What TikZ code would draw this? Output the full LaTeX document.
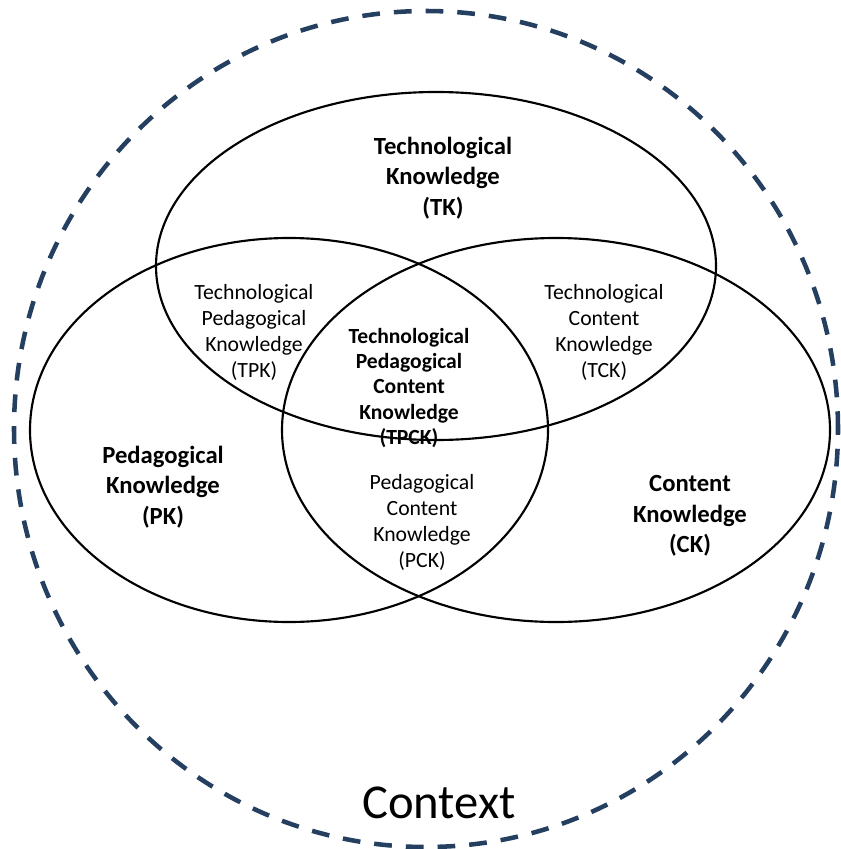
\documentclass[tikz,border=0pt]{standalone}
\usepackage{fontspec}
\setmainfont{Carlito}
\usetikzlibrary{shapes.geometric}
\tikzset{every picture/.style={line width=0.75pt}}
\definecolor{ctxblue}{RGB}{36,63,96}

\begin{document}
\begin{tikzpicture}[x=0.75pt,y=0.75pt,yscale=-1,xscale=1,
  kdomain/.style={draw, ellipse, inner sep=0pt, line width=1.6pt},
  maintxt/.style={align=center, font=\fontsize{18.5}{22.9}\selectfont\bfseries},
  midtxt/.style={align=center, font=\fontsize{16.3}{19.5}\selectfont},
  coretxt/.style={align=center, font=\fontsize{16.2}{19}\selectfont\bfseries}]
\useasboundingbox (0,0) rectangle (841,849);

%Shape: Ellipse [id:context]
\node [draw=ctxblue, ellipse, inner sep=0pt, line width=3.4pt, dash pattern=on 13.3pt off 10.5pt,
  minimum width=618pt, minimum height=627pt] (ctx) at (426,429) {};
%Shape: Ellipse [id:tk]
\node [kdomain, minimum width=420pt, minimum height=261pt] (tk) at (436,266) {};
%Shape: Ellipse [id:pk]
\node [kdomain, minimum width=388.5pt, minimum height=288pt] (pk) at (289,430) {};
%Shape: Ellipse [id:ck]
\node [kdomain, minimum width=411pt, minimum height=288pt] (ck) at (556,430) {};

% Text Node
\node [maintxt] (tklbl) at (443,178) {Technological\\Knowledge\\(TK)};
% Text Node
\node [maintxt] (pklbl) at (163,487) {Pedagogical\\Knowledge\\(PK)};
% Text Node
\node [maintxt] (cklbl) at (690,516) {Content\\Knowledge\\(CK)};
% Text Node
\node [midtxt] (tpk) at (254,332) {Technological\\Pedagogical\\Knowledge\\(TPK)};
% Text Node
\node [midtxt] (tck) at (604,332) {Technological\\Content\\Knowledge\\(TCK)};
% Text Node
\node [midtxt] (pck) at (422,522) {Pedagogical\\Content\\Knowledge\\(PCK)};
% Text Node
\node [coretxt] (tpck) at (409,388) {Technological\\Pedagogical\\Content\\Knowledge\\(TPCK)};
% Text Node
\node [font=\fontsize{36.5}{40}\selectfont] (ctxlbl) at (439,803) {Context};

\end{tikzpicture}
\end{document}
